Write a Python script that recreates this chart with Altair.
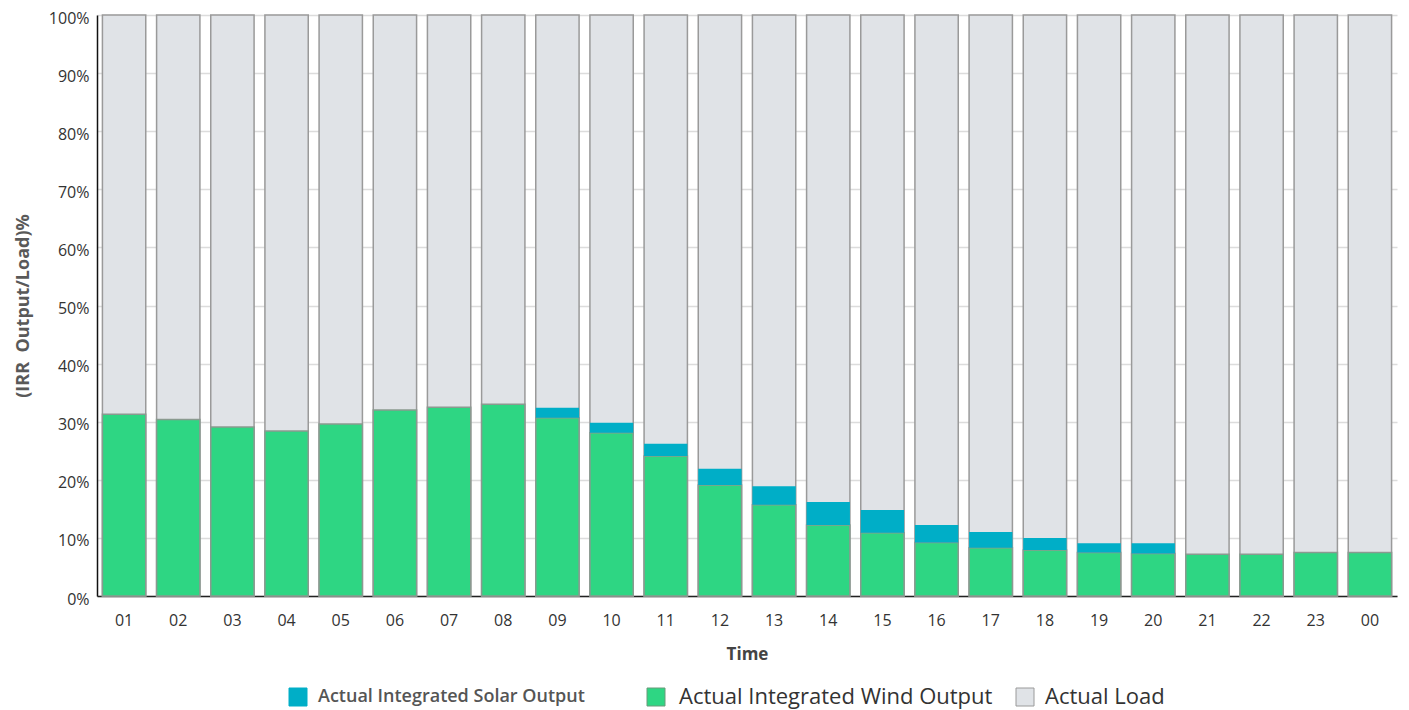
import altair as alt
import pandas as pd

times = ["01", "02", "03", "04", "05", "06", "07", "08", "09", "10", "11", "12",
         "13", "14", "15", "16", "17", "18", "19", "20", "21", "22", "23", "00"]
wind_pct = [31.3, 30.4, 29.1, 28.4, 29.6, 32.0, 32.5, 33.0, 30.7, 28.1, 24.1, 19.1,
            15.7, 12.2, 10.9, 9.2, 8.3, 7.9, 7.5, 7.3, 7.2, 7.2, 7.5, 7.5]
solar_pct = [0, 0, 0, 0, 0, 0, 0, 0, 1.7, 1.7, 2.1, 2.8,
             3.2, 4.0, 3.9, 3.0, 2.7, 2.1, 1.6, 1.8, 0, 0, 0, 0]
load_pct = [100] * 24

series_names = ["Actual Integrated Solar Output", "Actual Integrated Wind Output", "Actual Load"]
series_colors = ["#00AEC7", "#2ED683", "#E0E3E7"]

df = pd.DataFrame({
    "time": times,
    "wind": [v / 100 for v in wind_pct],
    "solar": [v / 100 for v in solar_pct],
    "load": [v / 100 for v in load_pct],
})
df["top"] = df["wind"] + df["solar"]

FONT = "Open Sans"
SOLAR = "datum.label == 'Actual Integrated Solar Output'"
WIND = "datum.label == 'Actual Integrated Wind Output'"
color_scale = alt.Scale(domain=series_names, range=series_colors)
legend = alt.Legend(
    title=None, orient="none", direction="horizontal", legendX=190, legendY=671,
    symbolType="square", symbolSize=324, symbolStrokeWidth=1,
    symbolStrokeColor={"expr": SOLAR + " ? '#00AEC7' : (datum.label == 'Actual Load' ? '#9a9a9a' : '#6a9a7a')"},
    symbolOffset={"expr": WIND + " ? 39 : 0"},
    labelOffset={"expr": WIND + " ? 12 : 9"},
    labelFont=FONT,
    labelFontSize={"expr": SOLAR + " ? 18 : 22"},
    labelFontWeight={"expr": SOLAR + " ? 600 : 400"},
    labelColor={"expr": SOLAR + " ? '#555555' : '#333333'"},
    labelLimit=500, columnPadding=21, padding=0,
)

x_enc = alt.X("time:N", sort=times,
              scale=alt.Scale(paddingInner=0.2, paddingOuter=0.1),
              axis=alt.Axis(title="Time", labelAngle=0, ticks=False, labelFontSize=16,
                            labelFont=FONT, labelColor="#333333", labelPadding=16,
                            titleFont=FONT, titleFontSize=17, titleFontWeight="bold",
                            titleColor="#444444", titlePadding=18,
                            domainColor="#222222", domainWidth=1.5))
y_scale = alt.Scale(domain=[0, 1], nice=False)
y_axis = alt.Axis(title="(IRR\u00a0 Output/Load)%", format=".0%",
                  values=[i / 10 for i in range(11)], ticks=False,
                  labelFontSize=16, labelFont=FONT, labelColor="#333333", labelPadding=8,
                  labelOffset=3,
                  titleFont=FONT, titleFontSize=18, titleFontWeight="bold",
                  titleColor="#595959", titlePadding=16,
                  domainColor="#111111", domainWidth=1.5,
                  gridColor="#dcdcdc", gridWidth=1.5)

base = alt.Chart(df).encode(x=x_enc)

load_layer = base.transform_calculate(series="'Actual Load'").mark_bar(
    stroke="#9a9a9a", strokeWidth=1.5
).encode(
    y=alt.Y("load:Q", scale=y_scale, axis=y_axis),
    color=alt.Color("series:N", scale=color_scale, legend=legend),
)

wind_layer = base.transform_calculate(series="'Actual Integrated Wind Output'").mark_bar(
    stroke="#8a9a90", strokeWidth=1.5
).encode(
    y=alt.Y("wind:Q", scale=y_scale, axis=y_axis),
    color=alt.Color("series:N", scale=color_scale, legend=legend),
)

solar_layer = base.transform_filter("datum.solar > 0").transform_calculate(
    series="'Actual Integrated Solar Output'"
).mark_bar(strokeWidth=0).encode(
    y=alt.Y("wind:Q", scale=y_scale, axis=y_axis),
    y2="top:Q",
    color=alt.Color("series:N", scale=color_scale, legend=legend),
)

chart = alt.layer(load_layer, wind_layer, solar_layer).properties(
    width=1300, height=581,
    autosize=alt.AutoSizeParams(type="none"),
    padding={"left": 89, "top": 7, "right": 4, "bottom": 114},
).configure_view(stroke=None)

chart.save("out.html", embed_options={"renderer": "svg", "actions": False})
